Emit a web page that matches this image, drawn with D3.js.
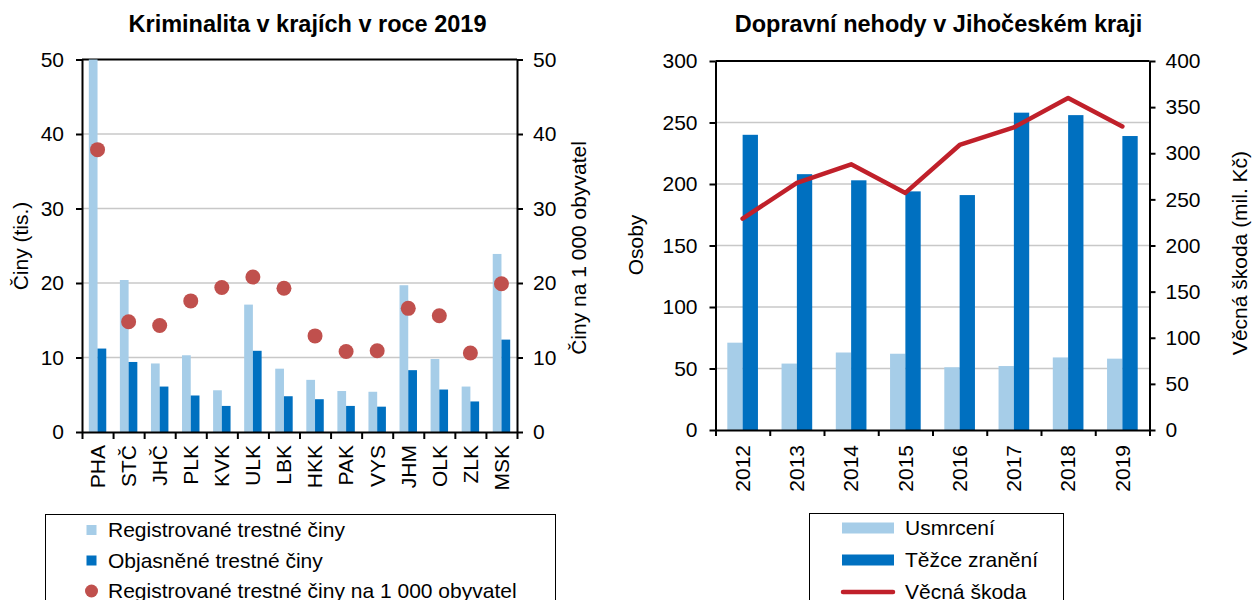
<!DOCTYPE html>
<html>
<head>
<meta charset="utf-8">
<script src="https://cdn.jsdelivr.net/npm/d3@7"></script>
<style>
body { margin: 0; background: #fff; }
text { font-family: Arial, "Liberation Sans", sans-serif; fill: #000; }
</style>
</head>
<body>
<div id="vis"></div>
<script>
// data - left chart (crime by region, 2019)
var regions = ["PHA","STČ","JHČ","PLK","KVK","ULK","LBK","HKK","PAK","VYS","JHM","OLK","ZLK","MSK"];
var registered = [56, 20.4, 9.2, 10.3, 5.6, 17.1, 8.5, 7.0, 5.5, 5.4, 19.7, 9.8, 6.1, 23.9];
var solved = [11.2, 9.4, 6.1, 4.9, 3.5, 10.9, 4.8, 4.4, 3.5, 3.4, 8.3, 5.7, 4.1, 12.4];
var perThousand = [37.9, 14.8, 14.3, 17.6, 19.4, 20.8, 19.3, 12.9, 10.8, 10.9, 16.6, 15.6, 10.6, 19.9];
var crimeTicks = [0, 10, 20, 30, 40, 50];

// data - right chart (traffic accidents, South Bohemia)
var years = ["2012","2013","2014","2015","2016","2017","2018","2019"];
var killed = [71, 54, 63, 62, 51, 52, 59, 58];
var injured = [240, 208, 203, 194, 191, 258, 256, 239];
var damage = [229, 268, 288, 257, 309, 328, 360, 329];
var personTicks = [0, 50, 100, 150, 200, 250, 300];
var damageTicks = [0, 50, 100, 150, 200, 250, 300, 350, 400];

var lightBlue = "#a6cde8";
var darkBlue = "#0070c0";
var dotRed = "#c0504d";
var lineRed = "#c0202a";
var fs = "21px";

var svg = d3.select("#vis")
            .append("svg")
            .attr("width", 1252)
            .attr("height", 600);

// helper: horizontal grid lines
function gridLines(g, scale, ticks, x1, x2) {
  g.selectAll("line.grid")
   .data(ticks.slice(1, -1))
   .enter()
   .append("line")
   .attr("x1", x1).attr("x2", x2)
   .attr("y1", d => scale(d)).attr("y2", d => scale(d))
   .attr("stroke", "#c8c8c8")
   .attr("stroke-width", 1.5);
}

function styleAxis(g) {
  g.selectAll("path.domain").attr("stroke", "#000").attr("stroke-width", 2);
  g.selectAll(".tick line").attr("stroke", "#000").attr("stroke-width", 2);
  g.selectAll(".tick text").style("font-size", fs).attr("fill", "#000");
}

// ================= LEFT CHART =================
var L = { left: 82, right: 517, top: 59.5, bottom: 432 };

var xL = d3.scaleBand().domain(regions).range([L.left, L.right]).padding(0);
var xLin = d3.scaleBand().domain(["reg", "sol"]).range([0, xL.bandwidth()])
             .paddingInner(0).paddingOuter(0.78);
var yL = d3.scaleLinear().domain([0, 50]).range([L.bottom, L.top]).clamp(true);
var yL2 = d3.scaleLinear().domain([0, 50]).range([L.bottom, L.top]);

var left = svg.append("g");

gridLines(left, yL, crimeTicks, L.left, L.right);

// top frame
left.append("line")
    .attr("x1", L.left).attr("x2", L.right)
    .attr("y1", L.top).attr("y2", L.top)
    .attr("stroke", "#000").attr("stroke-width", 2);

left.selectAll("rect.reg")
    .data(registered)
    .enter()
    .append("rect")
    .attr("x", (d, i) => xL(regions[i]) + xLin("reg"))
    .attr("width", xLin.bandwidth())
    .attr("y", d => yL(d))
    .attr("height", d => yL(0) - yL(d))
    .attr("fill", lightBlue);

left.selectAll("rect.sol")
    .data(solved)
    .enter()
    .append("rect")
    .attr("x", (d, i) => xL(regions[i]) + xLin("sol"))
    .attr("width", xLin.bandwidth())
    .attr("y", d => yL(d))
    .attr("height", d => yL(0) - yL(d))
    .attr("fill", darkBlue);

left.selectAll("circle")
    .data(perThousand)
    .enter()
    .append("circle")
    .attr("cx", (d, i) => xL(regions[i]) + xL.bandwidth() / 2)
    .attr("cy", d => yL2(d))
    .attr("r", 7.5)
    .attr("fill", dotRed);

var lAx = left.append("g")
    .attr("transform", `translate(${L.left},0)`)
    .call(d3.axisLeft(yL).tickValues(crimeTicks).tickSize(6).tickSizeOuter(0).tickPadding(12));
styleAxis(lAx);

var rAx = left.append("g")
    .attr("transform", `translate(${L.right},0)`)
    .call(d3.axisRight(yL2).tickValues(crimeTicks).tickSize(6).tickSizeOuter(0).tickPadding(10));
styleAxis(rAx);

// bottom axis: ticks on category boundaries
var bL = d3.scaleLinear().domain([0, regions.length]).range([L.left, L.right]);
var bAx = left.append("g")
    .attr("transform", `translate(0,${L.bottom})`)
    .call(d3.axisBottom(bL).ticks(regions.length).tickFormat("").tickSize(7).tickSizeOuter(0));
styleAxis(bAx);

var lblAx = left.append("g")
    .attr("transform", `translate(0,${L.bottom})`)
    .call(d3.axisBottom(xL).tickSize(0));
lblAx.select("path.domain").remove();
lblAx.selectAll(".tick text")
    .style("font-size", fs)
    .attr("fill", "#000")
    .attr("text-anchor", "end")
    .attr("transform", "rotate(-90)")
    .attr("x", -13)
    .attr("y", 0)
    .attr("dy", "0.35em");

left.append("text")
    .attr("x", 307.5).attr("y", 32)
    .attr("text-anchor", "middle")
    .style("font-size", "23.5px").style("font-weight", "bold")
    .text("Kriminalita v krajích v roce 2019");

left.append("text")
    .attr("transform", "translate(27.5,246) rotate(-90)")
    .attr("text-anchor", "middle")
    .style("font-size", fs)
    .text("Činy (tis.)");

left.append("text")
    .attr("transform", "translate(586,248) rotate(-90)")
    .attr("text-anchor", "middle")
    .style("font-size", fs)
    .text("Činy na 1 000 obyvatel");

// legend left
var legL = left.append("g");
legL.append("rect")
    .attr("x", 45.5).attr("y", 514.5).attr("width", 510).attr("height", 120)
    .attr("fill", "none").attr("stroke", "#000").attr("stroke-width", 1);
var legLItems = [
  { label: "Registrované trestné činy", color: lightBlue, type: "square" },
  { label: "Objasněné trestné činy", color: darkBlue, type: "square" },
  { label: "Registrované trestné činy na 1 000 obyvatel", color: dotRed, type: "dot" }
];
legLItems.forEach(function(it, i) {
  var cy = 530 + i * 30.5;
  if (it.type === "square") {
    legL.append("rect").attr("x", 86.5).attr("y", cy - 5).attr("width", 10).attr("height", 10).attr("fill", it.color);
  } else {
    legL.append("circle").attr("cx", 91.5).attr("cy", cy).attr("r", 6.5).attr("fill", it.color);
  }
  legL.append("text").attr("x", 108).attr("y", cy).attr("dy", "0.35em")
      .style("font-size", fs).text(it.label);
});

// ================= RIGHT CHART =================
var R = { left: 715.5, right: 1149.5, top: 61, bottom: 430 };

var xR = d3.scaleBand().domain(years).range([R.left, R.right]).padding(0);
var xRin = d3.scaleBand().domain(["k", "i"]).range([0, xR.bandwidth()])
             .paddingInner(0).paddingOuter(0.77);
var yR = d3.scaleLinear().domain([0, 300]).range([R.bottom, R.top]);
var yR2 = d3.scaleLinear().domain([0, 400]).range([R.bottom, R.top]);

var right = svg.append("g");

gridLines(right, yR, personTicks, R.left, R.right);

right.append("line")
    .attr("x1", R.left).attr("x2", R.right)
    .attr("y1", R.top).attr("y2", R.top)
    .attr("stroke", "#000").attr("stroke-width", 2);

right.selectAll("rect.k")
    .data(killed)
    .enter()
    .append("rect")
    .attr("x", (d, i) => xR(years[i]) + xRin("k"))
    .attr("width", xRin.bandwidth())
    .attr("y", d => yR(d))
    .attr("height", d => yR(0) - yR(d))
    .attr("fill", lightBlue);

right.selectAll("rect.i")
    .data(injured)
    .enter()
    .append("rect")
    .attr("x", (d, i) => xR(years[i]) + xRin("i"))
    .attr("width", xRin.bandwidth())
    .attr("y", d => yR(d))
    .attr("height", d => yR(0) - yR(d))
    .attr("fill", darkBlue);

var line = d3.line()
    .x((d, i) => xR(years[i]) + xR.bandwidth() / 2)
    .y(d => yR2(d));

right.append("path")
    .datum(damage)
    .attr("d", line)
    .attr("fill", "none")
    .attr("stroke", lineRed)
    .attr("stroke-width", 4.5)
    .attr("stroke-linejoin", "round")
    .attr("stroke-linecap", "round");

var rlAx = right.append("g")
    .attr("transform", `translate(${R.left},0)`)
    .call(d3.axisLeft(yR).tickValues(personTicks).tickSize(6).tickSizeOuter(0).tickPadding(12));
styleAxis(rlAx);

var rrAx = right.append("g")
    .attr("transform", `translate(${R.right},0)`)
    .call(d3.axisRight(yR2).tickValues(damageTicks).tickSize(6).tickSizeOuter(0).tickPadding(10));
styleAxis(rrAx);

var bR = d3.scaleLinear().domain([0, years.length]).range([R.left, R.right]);
var rbAx = right.append("g")
    .attr("transform", `translate(0,${R.bottom})`)
    .call(d3.axisBottom(bR).ticks(years.length).tickFormat("").tickSize(6).tickSizeOuter(0));
styleAxis(rbAx);

var rLbl = right.append("g")
    .attr("transform", `translate(0,${R.bottom})`)
    .call(d3.axisBottom(xR).tickSize(0));
rLbl.select("path.domain").remove();
rLbl.selectAll(".tick text")
    .style("font-size", fs)
    .attr("fill", "#000")
    .attr("text-anchor", "end")
    .attr("transform", "rotate(-90)")
    .attr("x", -15)
    .attr("y", 0)
    .attr("dy", "0.35em");

right.append("text")
    .attr("x", 938.5).attr("y", 32)
    .attr("text-anchor", "middle")
    .style("font-size", "23.5px").style("font-weight", "bold")
    .text("Dopravní nehody v Jihočeském kraji");

right.append("text")
    .attr("transform", "translate(643,245) rotate(-90)")
    .attr("text-anchor", "middle")
    .style("font-size", fs)
    .text("Osoby");

right.append("text")
    .attr("transform", "translate(1247,253) rotate(-90)")
    .attr("text-anchor", "middle")
    .style("font-size", fs)
    .text("Věcná škoda (mil. Kč)");

// legend right
var legR = right.append("g");
legR.append("rect")
    .attr("x", 809.5).attr("y", 513.5).attr("width", 254).attr("height", 120)
    .attr("fill", "none").attr("stroke", "#000").attr("stroke-width", 1);
var legRItems = [
  { label: "Usmrcení", color: lightBlue, type: "bar" },
  { label: "Těžce zranění", color: darkBlue, type: "bar" },
  { label: "Věcná škoda", color: lineRed, type: "line" }
];
legRItems.forEach(function(it, i) {
  var cy = 528 + i * 32;
  if (it.type === "bar") {
    legR.append("rect").attr("x", 842).attr("y", cy - 5.5).attr("width", 52).attr("height", 11).attr("fill", it.color);
  } else {
    legR.append("line").attr("x1", 843).attr("x2", 893).attr("y1", cy).attr("y2", cy)
        .attr("stroke", it.color).attr("stroke-width", 4.5).attr("stroke-linecap", "round");
  }
  legR.append("text").attr("x", 905).attr("y", cy).attr("dy", "0.35em")
      .style("font-size", fs).text(it.label);
});
</script>
</body>
</html>
